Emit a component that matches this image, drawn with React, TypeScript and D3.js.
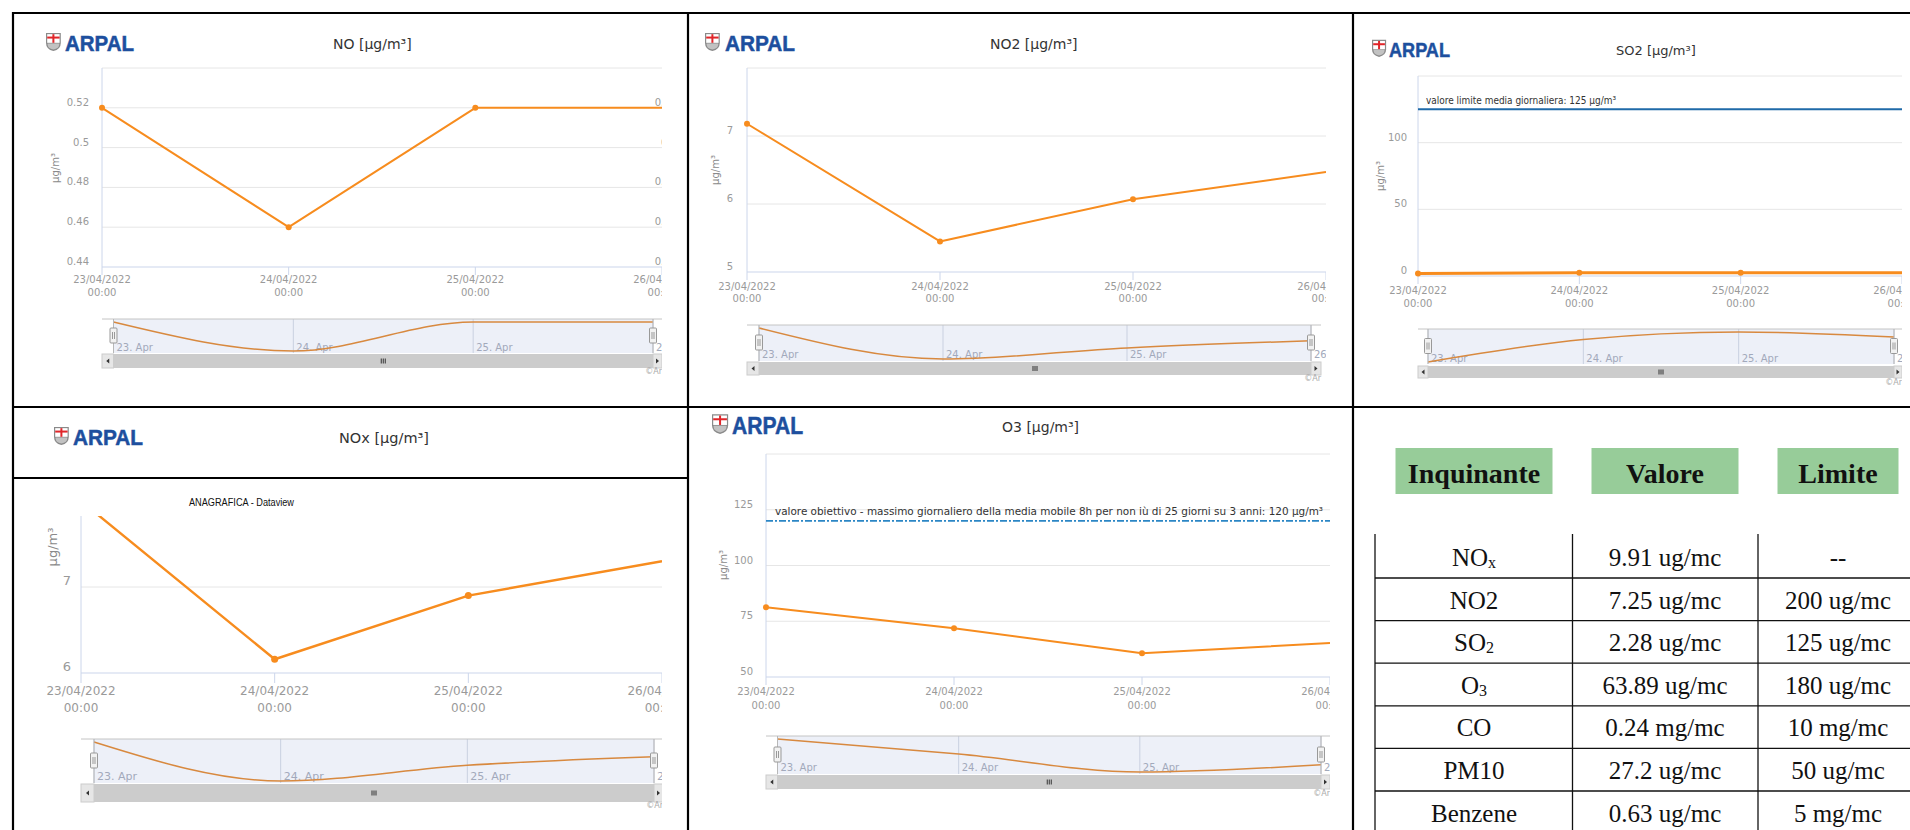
import React from "react";
import * as d3 from "d3";

// ---------- DATA ----------
const dayDates = ["2022-04-23", "2022-04-24", "2022-04-25", "2022-04-26"];
const dayTickLabels = ["23/04/2022", "24/04/2022", "25/04/2022", "26/04/2022"];
const timeTickLabel = "00:00";
const navDayLabels = ["23. Apr", "24. Apr", "25. Apr", "26. Apr"];

const noValues = [0.52, 0.46, 0.52, 0.52];
const no2Values = [7.18, 5.45, 6.07, 6.47];
const so2Values = [1.9, 2.35, 2.5, 2.4];
const noxValues = [8.0, 6.16, 6.9, 7.3];
const o3Values = [81.3, 71.9, 60.7, 65.2];

const noTicks = [0.44, 0.46, 0.48, 0.5, 0.52, 0.54];
const no2Ticks = [5, 6, 7, 8];
const so2Ticks = [0, 50, 100, 150];
const noxTicks = [6, 7];
const o3Ticks = [50, 75, 100, 125, 150];

const so2LimitValue = 125;
const so2LimitLabel = "valore limite media giornaliera: 125 µg/m³";
const o3TargetValue = 120;
const o3TargetLabel =
  "valore obiettivo - massimo giornaliero della media mobile 8h per non iù di 25 giorni su 3 anni: 120 µg/m³";

const tableHeaders = ["Inquinante", "Valore", "Limite"];
const pollutantNames: [string, string][] = [
  ["NO", "x"], ["NO2", ""], ["SO", "2"], ["O", "3"], ["CO", ""], ["PM10", ""], ["Benzene", ""],
];
const pollutantValues = ["9.91 ug/mc", "7.25 ug/mc", "2.28 ug/mc", "63.89 ug/mc", "0.24 mg/mc", "27.2 ug/mc", "0.63 ug/mc"];
const pollutantLimits = ["--", "200 ug/mc", "125 ug/mc", "180 ug/mc", "10 mg/mc", "50 ug/mc", "5 mg/mc"];

// ---------- STYLE ----------
const ORANGE = "#f78c1e";
const NAV_LINE = "#d8893f";
const GRID = "#e6e6e6";
const AXIS = "#ccd6eb";
const LABEL = "#9a9a9a";
const HC_FONT = "'DejaVu Sans', Verdana, sans-serif";
const SERIF = "'Liberation Serif', 'Times New Roman', serif";

const parseDay = d3.timeParse("%Y-%m-%d");
const dates = dayDates.map((d) => parseDay(d) as Date);
const fmtTick = (v: number) => String(+v.toFixed(2));

const panels: any[] = [
  {
    key: "no", values: noValues, ticks: noTicks, panelL: 13, panelT: 13, panelB: 407,
    plotL: 102, plotR: 662, plotT: 68, plotB: 267, yDomain: [0.44, 0.54], yRange: [267, 68],
    hideTop: true, rightLabels: 15, yLabelX: 89, yTitle: [55, 168],
    xLab: [283, 296], logo: { sx: 46, sy: 34, tx: 65, by: 51, w: 69, fs: 22 },
    title: { text: "NO [µg/m³]", x: 333, y: 49, fs: 14 },
    nav: { L: 113.5, R: 653, outR: 662, top: 319, bot: 353, sbTop: 354, sbH: 14, cred: 374, lab: 351 },
  },
  {
    key: "no2", values: no2Values, ticks: no2Ticks, panelL: 688, panelT: 13, panelB: 407,
    plotL: 747, plotR: 1326, plotT: 68, plotB: 272, yDomain: [5, 8], yRange: [272, 68],
    hideTop: true, rightLabels: 0, yLabelX: 733, yTitle: [715, 170],
    xLab: [290, 302], logo: { sx: 705, sy: 33, tx: 725, by: 51, w: 70, fs: 22 },
    title: { text: "NO2 [µg/m³]", x: 990, y: 49, fs: 14 },
    nav: { L: 759, R: 1311, outR: 1321, top: 325, bot: 361, sbTop: 362, sbH: 13, cred: 381, lab: 358 },
  },
  {
    key: "so2", values: so2Values, ticks: so2Ticks, panelL: 1353, panelT: 13, panelB: 407,
    plotL: 1418, plotR: 1902, plotT: 76, plotB: 276, yDomain: [0, 150], yRange: [276, 76],
    hideTop: true, rightLabels: 19, yLabelX: 1407, yTitle: [1380, 176], lineW: 3,
    xLab: [294, 307], logo: { sx: 1372, sy: 41, tx: 1389, by: 57, w: 61, fs: 21 },
    title: { text: "SO2 [µg/m³]", x: 1616, y: 55, fs: 13 },
    plotLine: { value: so2LimitValue, color: "#1f6aa8", width: 2, dash: "", label: so2LimitLabel, lx: 1426, ly: 104, len: 190 },
    nav: { L: 1428, R: 1894, outR: 1902, top: 329, bot: 364, sbTop: 366, sbH: 12, cred: 385, lab: 362 },
  },
  {
    key: "nox", values: noxValues, ticks: noxTicks, panelL: 13, panelT: 478, panelB: 830,
    plotL: 81, plotR: 662, plotT: 516, plotB: 673, yDomain: [6, 7], yRange: [673, 587],
    hideTop: false, rightLabels: 0, yLabelX: 71, yTitle: [52, 547], fs: 12, lineW: 2.4,
    xLab: [695, 712], tickLen: 10, logo: { sx: 54, sy: 429, tx: 73, by: 445, w: 70, fs: 22 },
    title: { text: "NOx [µg/m³]", x: 339, y: 443, fs: 14.5 },
    nav: { L: 94, R: 654, outR: 663, top: 739, bot: 783, sbTop: 784, sbH: 18, cred: 808, lab: 780, fs: 11 },
  },
  {
    key: "o3", values: o3Values, ticks: o3Ticks, panelL: 688, panelT: 407, panelB: 830,
    plotL: 766, plotR: 1330, plotT: 454, plotB: 677, yDomain: [50, 150], yRange: [677, 454],
    hideTop: true, rightLabels: 0, yLabelX: 753, yTitle: [723, 565],
    xLab: [695, 709], logo: { sx: 712, sy: 416, tx: 732, by: 434, w: 71, fs: 24 },
    title: { text: "O3 [µg/m³]", x: 1002, y: 432, fs: 14 },
    plotLine: { value: o3TargetValue, color: "#2b86c5", width: 1.6, dash: "7,2,2,2", label: o3TargetLabel, lx: 775, ly: 515, len: 548 },
    nav: { L: 777.5, R: 1321, outR: 1330, top: 736, bot: 774, sbTop: 775, sbH: 14, cred: 796, lab: 771 },
  },
];

function Logo({ l }: { l: any }) {
  const h = l.fs * 0.82;
  const w = h * 0.82;
  const sy = l.by - h;
  return (
    <g>
      <g transform={`translate(${l.sx},${sy})`}>
        <path d={`M0,0 H${w} V${h * 0.55} Q${w},${h * 0.9} ${w / 2},${h} Q0,${h * 0.9} 0,${h * 0.55} Z`} fill="#8a8a8a" />
        <rect x={1.2} y={1.2} width={w - 2.4} height={h * 0.48} fill="#fff" />
        <rect x={w / 2 - 1} y={1.2} width={2} height={h * 0.48} fill="#e0262a" />
        <rect x={1.2} y={h * 0.2} width={w - 2.4} height={2} fill="#e0262a" />
        <path d={`M1.6,${h * 0.58} H${w - 1.6} V${h * 0.62} Q${w - 1.6},${h * 0.86} ${w / 2},${h - 1.6} Q1.6,${h * 0.86} 1.6,${h * 0.62} Z`} fill="#c2c2c2" />
      </g>
      <text x={l.tx} y={l.by} fontFamily="'Liberation Sans', Arial, sans-serif" fontWeight="bold"
        fontSize={l.fs} fill="#1d4f9e" stroke="#1d4f9e" strokeWidth={0.5} textLength={l.w} lengthAdjust="spacingAndGlyphs">ARPAL</text>
    </g>
  );
}

function Panel({ c }: { c: any }) {
  const fs = c.fs ?? 10;
  const x = d3.scaleTime().domain([dates[0], dates[dates.length - 1]]).range([c.plotL, c.plotR]);
  const y = d3.scaleLinear().domain(c.yDomain).range(c.yRange);
  const line = d3.line<number>().x((_, i) => x(dates[i])).y((d) => y(d))(c.values) as string;
  const n = c.nav;
  const xn = d3.scaleTime().domain(x.domain()).range([n.L, n.R]);
  const ext = d3.extent(c.values as number[]) as [number, number];
  const yn = d3.scaleLinear().domain(ext).range([n.bot - 2, n.top + 3]);
  const navLine = d3.line<number>().x((_, i) => xn(dates[i])).y((d) => yn(d)).curve(d3.curveMonotoneX)(c.values) as string;
  const topTick = c.ticks[c.ticks.length - 1];
  const labelTicks = c.ticks.filter((t: number) => !(c.hideTop && t === topTick));
  const gridTicks = c.ticks.filter((t: number) => t !== c.yDomain[0]);
  const chartClip = `cc-${c.key}`;
  const plotClip = `pc-${c.key}`;
  const tickLen = c.tickLen ?? 8;
  const navMid = (n.top + n.bot) / 2;
  const sbMid = n.sbTop + n.sbH / 2;
  const cx = (n.L + n.R) / 2;
  return (
    <g>
      <defs>
        <clipPath id={chartClip}>
          <rect x={c.panelL} y={c.panelT} width={c.plotR - c.panelL} height={c.panelB - c.panelT} />
        </clipPath>
        <clipPath id={plotClip}>
          <rect x={c.plotL - 5} y={c.key === "nox" ? c.plotT : c.plotT - 5} width={c.plotR - c.plotL + 5}
            height={c.plotB - c.plotT + (c.key === "nox" ? 5 : 10)} />
        </clipPath>
      </defs>
      <Logo l={c.logo} />
      <text x={c.title.x} y={c.title.y} fontFamily={HC_FONT} fontSize={c.title.fs} fill="#333">{c.title.text}</text>
      <g clipPath={`url(#${chartClip})`}>
        {gridTicks.map((t: number) => (
          <line key={"g" + t} x1={c.plotL} x2={c.plotR} y1={y(t)} y2={y(t)} stroke={GRID} strokeWidth={1} />
        ))}
        <line x1={c.plotL} x2={c.plotL} y1={c.plotT} y2={c.plotB} stroke={AXIS} strokeWidth={1} />
        <line x1={c.plotL} x2={c.plotR} y1={c.plotB} y2={c.plotB} stroke={AXIS} strokeWidth={1.2} />
        {dates.map((d, i) => (
          <line key={"t" + i} x1={x(d)} x2={x(d)} y1={c.plotB} y2={c.plotB + tickLen} stroke={AXIS} strokeWidth={1} />
        ))}
        {labelTicks.map((t: number) => (
          <text key={"yl" + t} x={c.yLabelX} y={y(t) - 2} textAnchor="end" fontFamily={HC_FONT} fontSize={fs + (c.key === "nox" ? 1 : 0)} fill={LABEL}>{fmtTick(t)}</text>
        ))}
        {c.rightLabels > 0 && labelTicks.map((t: number) => (
          <text key={"yr" + t} x={c.plotR + c.rightLabels} y={y(t) - 2} textAnchor="end" fontFamily={HC_FONT} fontSize={fs} fill={LABEL}>{fmtTick(t)}</text>
        ))}
        <text transform={`translate(${c.yTitle[0]},${c.yTitle[1]}) rotate(-90)`} textAnchor="middle" dominantBaseline="central"
          fontFamily={HC_FONT} fontSize={fs + (c.key === "nox" ? 1 : 0)} fill="#8a8a8a">µg/m³</text>
        {dates.map((d, i) => (
          <g key={"xl" + i} fontFamily={HC_FONT} fontSize={fs} fill={LABEL} textAnchor="middle">
            <text x={x(d)} y={c.xLab[0]}>{dayTickLabels[i]}</text>
            <text x={x(d)} y={c.xLab[1]}>{timeTickLabel}</text>
          </g>
        ))}
        {c.plotLine && (
          <g>
            <line x1={c.plotL} x2={c.plotR} y1={y(c.plotLine.value)} y2={y(c.plotLine.value)} stroke={c.plotLine.color}
              strokeWidth={c.plotLine.width} strokeDasharray={c.plotLine.dash} />
            <text x={c.plotLine.lx} y={c.plotLine.ly} fontFamily={HC_FONT} fontSize={10.5} fill="#333"
              textLength={c.plotLine.len} lengthAdjust="spacingAndGlyphs">{c.plotLine.label}</text>
          </g>
        )}
        <g clipPath={`url(#${plotClip})`}>
          <path d={line} fill="none" stroke={ORANGE} strokeWidth={c.lineW ?? 2} strokeLinejoin="round" />
          {c.values.slice(0, -1).map((v: number, i: number) => (
            <circle key={"m" + i} cx={x(dates[i])} cy={y(v)} r={c.key === "nox" ? 3.5 : 3} fill={ORANGE} />
          ))}
        </g>
        {/* navigator */}
        <rect x={n.L} y={n.top} width={n.R - n.L} height={n.bot - n.top} fill="#edf0f8" />
        {dates.map((d, i) => (
          <line key={"ng" + i} x1={xn(d)} x2={xn(d)} y1={n.top} y2={n.bot} stroke="#c9d0e0" strokeWidth={1} />
        ))}
        {dates.map((d, i) => (
          <text key={"nl" + i} x={xn(d) + 3} y={n.lab} fontFamily={HC_FONT} fontSize={n.fs ?? 10} fill="#a2a9bb">{navDayLabels[i]}</text>
        ))}
        <path d={navLine} fill="none" stroke={NAV_LINE} strokeWidth={1.5} />
        <line x1={c.plotL} x2={n.outR} y1={n.top} y2={n.top} stroke="#c4c4c4" strokeWidth={1} />
        {[n.L, n.R].map((hx, i) => (
          <g key={"h" + i}>
            <line x1={hx} x2={hx} y1={n.top} y2={n.bot} stroke="#b8b8b8" strokeWidth={1} />
            <rect x={hx - 3.5} y={navMid - 8} width={7} height={15} rx={1} fill="#f2f2f2" stroke="#999" strokeWidth={1} />
            <line x1={hx - 1} x2={hx - 1} y1={navMid - 4} y2={navMid + 3} stroke="#999" strokeWidth={1} />
            <line x1={hx + 1} x2={hx + 1} y1={navMid - 4} y2={navMid + 3} stroke="#999" strokeWidth={1} />
          </g>
        ))}
        {/* scrollbar */}
        <rect x={c.plotL} y={n.sbTop} width={n.outR - c.plotL} height={n.sbH} fill="#f2f2f2" />
        <rect x={n.L} y={n.sbTop} width={n.R - n.L} height={n.sbH} fill="#cccccc" />
        <rect x={c.plotL} y={n.sbTop} width={n.L - c.plotL} height={n.sbH} fill="#e6e6e6" stroke="#cccccc" strokeWidth={1} />
        <rect x={n.R} y={n.sbTop} width={n.outR - n.R} height={n.sbH} fill="#e6e6e6" stroke="#cccccc" strokeWidth={1} />
        <path d={`M${(c.plotL + n.L) / 2 - 1.5},${sbMid} l3,-2.5 v5 z`} fill="#333" />
        <path d={`M${(n.R + n.outR) / 2 + 1.5},${sbMid} l-3,-2.5 v5 z`} fill="#333" />
        {[-2, 0, 2].map((dx) => (
          <line key={"gr" + dx} x1={cx + dx} x2={cx + dx} y1={sbMid - 2.5} y2={sbMid + 2.5} stroke="#333" strokeWidth={1} />
        ))}
        <text x={n.outR} y={n.cred} textAnchor="end" fontFamily={HC_FONT} fontSize={8} fill="#aaa">©Ar</text>
      </g>
    </g>
  );
}

function Table() {
  const colCenters = [1474, 1665, 1838];
  const headerW = [157, 147, 121];
  const colLines = [1375, 1572.5, 1758];
  const rowIdx = d3.range(pollutantNames.length);
  const rowBottom = d3.scaleLinear().domain([0, 1]).range([578, 620.6]);
  return (
    <g>
      {tableHeaders.map((h, i) => (
        <g key={h}>
          <rect x={colCenters[i] - headerW[i] / 2} y={448} width={headerW[i]} height={46} fill="#97cc99" />
          <text x={colCenters[i]} y={483} textAnchor="middle" fontFamily={SERIF} fontWeight="bold" fontSize={28} fill="#111">{h}</text>
        </g>
      ))}
      {colLines.map((cx) => (
        <line key={cx} x1={cx} x2={cx} y1={534} y2={830} stroke="#111" strokeWidth={1.3} />
      ))}
      {rowIdx.slice(0, -1).map((i) => (
        <line key={"r" + i} x1={1375} x2={1910} y1={rowBottom(i)} y2={rowBottom(i)} stroke="#111" strokeWidth={1.3} />
      ))}
      {rowIdx.map((i) => {
        const by = rowBottom(i) - 12;
        const [base, sub] = pollutantNames[i];
        return (
          <g key={"row" + i} fontFamily={SERIF} fontSize={25} fill="#111" textAnchor="middle">
            <text x={colCenters[0]} y={by}>
              {base}
              {sub && <tspan fontSize={16} dy={2}>{sub}</tspan>}
            </text>
            <text x={colCenters[1]} y={by}>{pollutantValues[i]}</text>
            <text x={colCenters[2]} y={by}>{pollutantLimits[i]}</text>
          </g>
        );
      })}
    </g>
  );
}

export default function App() {
  return (
    <div style={{ position: "absolute", left: 0, top: 0, width: 1910, height: 830, background: "#fff" }}>
      <svg width={1910} height={830} viewBox="0 0 1910 830">
        <rect width={1910} height={830} fill="#fff" />
        {panels.map((p) => <Panel key={p.key} c={p} />)}
        <text x={189} y={506} fontFamily="'Liberation Sans Narrow', 'Liberation Sans', Arial, sans-serif" fontSize={11.5}
          fill="#111" textLength={105} lengthAdjust="spacingAndGlyphs">ANAGRAFICA - Dataview</text>
        <Table />
        <g stroke="#000" strokeWidth={2.2}>
          <line x1={13} x2={1910} y1={13} y2={13} />
          <line x1={13} x2={13} y1={12} y2={830} />
          <line x1={688} x2={688} y1={12} y2={830} />
          <line x1={1353} x2={1353} y1={12} y2={830} />
          <line x1={13} x2={1910} y1={407} y2={407} />
          <line x1={13} x2={688} y1={478} y2={478} />
        </g>
      </svg>
    </div>
  );
}
